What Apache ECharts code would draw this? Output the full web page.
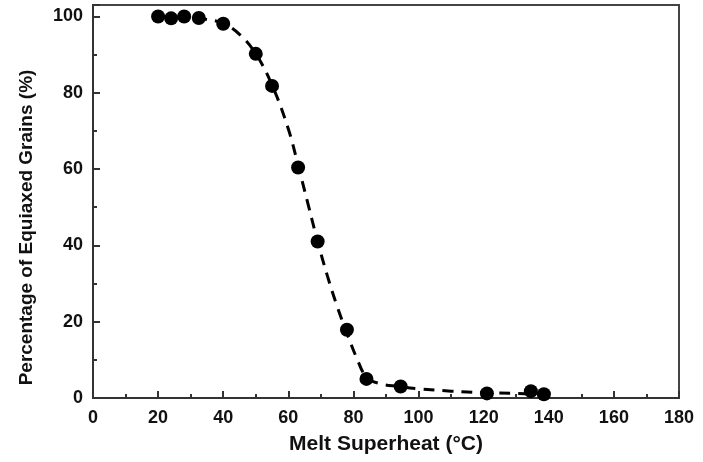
<!DOCTYPE html>
<html>
<head>
<meta charset="utf-8">
<script src="https://cdn.jsdelivr.net/npm/echarts@6/dist/echarts.min.js"></script>
<style>
html,body{margin:0;padding:0;background:#fff;}
#chart{width:703px;height:462px;}
</style>
</head>
<body>
<div id="chart"></div>
<script>
// Measured points: melt superheat (°C) and percentage of equiaxed grains (%)
var superheat = [20, 24, 28, 32.5, 40, 50, 55, 63, 69, 78, 84, 94.5, 121, 134.5, 138.5];
var equiaxed  = [100, 99.5, 100, 99.6, 98.1, 90.2, 81.8, 60.4, 41, 17.9, 5.0, 3.0, 1.2, 1.8, 1.0];

// Fitted dashed curve
var fitX = [20, 25, 30, 35, 40, 45, 50, 55, 60, 63, 66, 69, 72, 75, 78, 81, 84, 88, 94, 100, 110, 120, 130, 138];
var fitY = [100, 99.9, 99.7, 99.2, 98.2, 95.3, 90.2, 82, 70.5, 61, 51, 41, 32, 24, 17, 10.5, 5.5, 3.8, 3.0, 2.4, 1.8, 1.4, 1.2, 1.0];

var xTicks = [0, 20, 40, 60, 80, 100, 120, 140, 160, 180];
var yTicks = [0, 20, 40, 60, 80, 100];

var pts = superheat.map(function (x, i) { return [x, equiaxed[i]]; });
var fit = fitX.map(function (x, i) { return [x, fitY[i]]; });

var FONT = 'Liberation Sans, Arial, sans-serif';
var chart = echarts.init(document.getElementById('chart'), null, {renderer: 'canvas'});
chart.setOption({
  backgroundColor: '#fff',
  animation: false,
  grid: {
    left: 93, right: 24, top: 5, bottom: 64,
    show: true, borderColor: '#444', borderWidth: 2, backgroundColor: 'transparent'
  },
  xAxis: {
    type: 'value', min: xTicks[0], max: xTicks[xTicks.length - 1], interval: 20,
    name: 'Melt Superheat (°C)', nameLocation: 'middle', nameGap: 36,
    nameTextStyle: {fontFamily: FONT, fontWeight: 'bold', fontSize: 21, color: '#111'},
    axisLine: {show: true, lineStyle: {color: '#333', width: 2}},
    axisTick: {show: true, inside: true, length: 7, lineStyle: {color: '#333', width: 2}},
    minorTick: {show: true, splitNumber: 2, length: 4, lineStyle: {color: '#333', width: 2}},
    axisLabel: {
      margin: 11, fontFamily: FONT, fontWeight: 'bold', fontSize: 18, color: '#111',
      formatter: function (v) { return xTicks.indexOf(v) >= 0 ? String(v) : ''; }
    },
    splitLine: {show: false}
  },
  yAxis: {
    type: 'value', min: 0, max: 103, interval: 20,
    name: 'Percentage of Equiaxed Grains (%)', nameLocation: 'middle', nameGap: 57,
    nameTextStyle: {fontFamily: FONT, fontWeight: 'bold', fontSize: 19, color: '#111', padding: [0, 52, 0, 0]},
    axisLine: {show: true, lineStyle: {color: '#333', width: 2}},
    axisTick: {show: true, inside: true, length: 7, lineStyle: {color: '#333', width: 2}},
    minorTick: {show: true, splitNumber: 2, length: 4, lineStyle: {color: '#333', width: 2}},
    axisLabel: {
      margin: 10, fontFamily: FONT, fontWeight: 'bold', fontSize: 18, color: '#111',
      formatter: function (v) { return yTicks.indexOf(v) >= 0 ? String(v) : ''; }
    },
    splitLine: {show: false}
  },
  series: [
    {
      type: 'line', data: fit, smooth: 0.4, showSymbol: false, symbol: 'none',
      lineStyle: {color: '#000', width: 3, type: [11, 8]}, z: 2
    },
    {
      type: 'scatter', data: pts, symbol: 'circle', symbolSize: 14,
      itemStyle: {color: '#000', opacity: 1}, z: 3
    }
  ]
});
</script>
</body>
</html>
